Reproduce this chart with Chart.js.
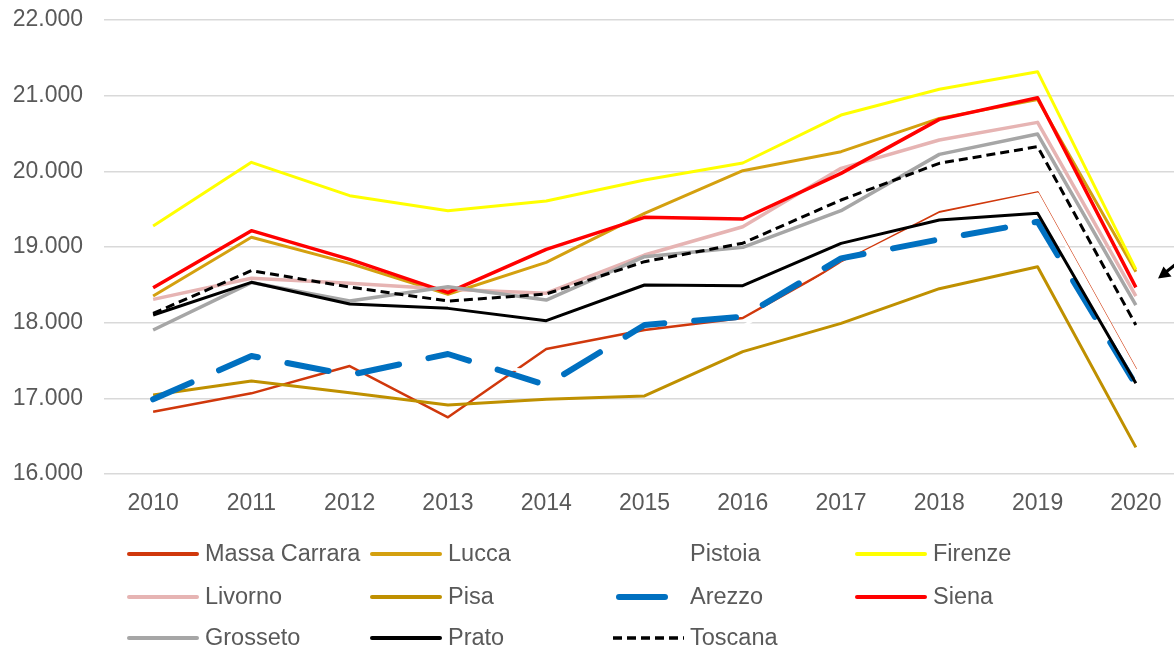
<!DOCTYPE html>
<html>
<head>
<meta charset="utf-8">
<script src="https://cdn.jsdelivr.net/npm/chart.js@4.4.1/dist/chart.umd.min.js"></script>
<style>
  html, body { margin: 0; padding: 0; background: #fff; overflow: hidden; width: 1174px; height: 651px; }
  #wrap { position: absolute; left: 0; top: 0; width: 1200px; height: 651px; }
  #legend { position: absolute; left: 0; top: 0; width: 1174px; height: 651px; pointer-events: none;
            font-family: "Liberation Sans", Arial, sans-serif; font-size: 23.5px; color: #595959; }
  .item { position: absolute; height: 30px; display: block; }
  .item svg { position: absolute; left: 0; top: 0; }
  .item span { position: absolute; top: 50%; transform: translateY(-50%); white-space: nowrap; line-height: 1; }
</style>
</head>
<body>
<div id="wrap"><canvas id="c" width="1200" height="651"></canvas></div>
<div id="legend"></div>
<script>
// ---- data ----
const years = ['2010','2011','2012','2013','2014','2015','2016','2017','2018','2019','2020'];
const seriesNames = ['Massa Carrara','Lucca','Pistoia','Firenze','Livorno','Pisa','Arezzo','Siena','Grosseto','Prato','Toscana'];
const massaCarrara = [16824, 17066, 17427, 16749, 17652, 17903, 18062, 18790, 19458, 19722, 17383];
const lucca        = [18352, 19128, 18784, 18375, 18797, 19445, 20008, 20260, 20700, 20950, 18674];
const pistoia      = [17000, 17300, 17500, 17450, 17350, 17700, 17950, 18770, 19430, 19700, 17360];
const firenze      = [19277, 20119, 19678, 19480, 19608, 19885, 20110, 20744, 21084, 21317, 18705];
const livorno      = [18308, 18586, 18520, 18441, 18390, 18894, 19268, 20040, 20414, 20647, 18352];
const pisa         = [17044, 17229, 17075, 16912, 16987, 17031, 17617, 17991, 18449, 18740, 16352];
const arezzo       = [16987, 17559, 17308, 17586, 17176, 17969, 18079, 18850, 19100, 19334, 17176];
const siena        = [18462, 19216, 18837, 18396, 18969, 19392, 19370, 19973, 20687, 20973, 18467];
const grosseto     = [17903, 18530, 18286, 18475, 18299, 18872, 18996, 19480, 20224, 20493, 18233];
const prato        = [18101, 18533, 18247, 18189, 18026, 18498, 18489, 19048, 19357, 19445, 17198];
const toscana      = [18123, 18687, 18470, 18286, 18379, 18806, 19050, 19621, 20106, 20326, 17969];
const yTickValues  = [16000, 17000, 18000, 19000, 20000, 21000, 22000];

const seriesValues = [massaCarrara, lucca, pistoia, firenze, livorno, pisa, arezzo, siena, grosseto, prato, toscana];
const styles = [
  { color: '#D0380C', width: 2.5 },
  { color: '#D4A00F', width: 3 },
  { color: '#FFFFFF', width: 3 },
  { color: '#FFFF00', width: 3 },
  { color: '#E6B4B3', width: 3.5 },
  { color: '#BF9000', width: 3 },
  { color: '#0070C0', width: 6, dash: [42, 30], cap: 'round' },
  { color: '#FF0000', width: 3.5 },
  { color: '#A6A6A6', width: 3.5 },
  { color: '#000000', width: 3 },
  { color: '#000000', width: 3, dash: [9, 5] }
];

const fmt = v => String(v).replace(/\B(?=(\d{3})+(?!\d))/g, '.');

const datasets = seriesNames.map((name, i) => ({
  label: name,
  data: seriesValues[i],
  borderColor: styles[i].color,
  backgroundColor: styles[i].color,
  borderWidth: styles[i].width,
  borderDash: styles[i].dash || [],
  borderCapStyle: styles[i].cap || 'butt',
  borderJoinStyle: 'round',
  pointRadius: 0,
  tension: 0,
  fill: false,
  order: -i
}));

const arrowPlugin = {
  id: 'arrow',
  afterDraw(chart) {
    const ctx = chart.ctx;
    ctx.save();
    ctx.strokeStyle = '#000'; ctx.fillStyle = '#000'; ctx.lineWidth = 3;
    ctx.beginPath(); ctx.moveTo(1190, 253); ctx.lineTo(1166, 272); ctx.stroke();
    ctx.beginPath(); ctx.moveTo(1158, 278.5); ctx.lineTo(1163.5, 266.5); ctx.lineTo(1171.5, 276.5); ctx.closePath(); ctx.fill();
    ctx.restore();
  }
};

new Chart(document.getElementById('c'), {
  type: 'line',
  data: { labels: years, datasets },
  options: {
    responsive: false,
    animation: false,
    devicePixelRatio: 1,
    layout: { padding: { top: 20, right: 15, bottom: 117, left: 0 } },
    plugins: { legend: { display: false }, tooltip: { enabled: false } },
    scales: {
      x: {
        offset: true,
        grid: { display: false, drawTicks: false },
        border: { display: false },
        ticks: { color: '#595959', font: { family: '"Liberation Sans", Arial, sans-serif', size: 23 }, padding: 16, maxRotation: 0 },
        afterFit(s) { s.height = 60; s.paddingLeft = 0; s.paddingRight = 0; }
      },
      y: {
        min: yTickValues[0], max: yTickValues[yTickValues.length - 1],
        afterBuildTicks(s) { s.ticks = yTickValues.map(v => ({ value: v })); },
        grid: { color: '#D9D9D9', lineWidth: 1.5, drawTicks: false },
        border: { display: false },
        ticks: { color: '#595959', font: { family: '"Liberation Sans", Arial, sans-serif', size: 23 }, padding: 21,
                 callback: v => fmt(v) },
        afterFit(s) { s.width = 104; s.paddingTop = 0; s.paddingBottom = 0; }
      }
    }
  },
  plugins: [arrowPlugin]
});

// ---- HTML legend ----
const legendCols = [127, 370, 613, 855];
const legendRows = [554, 597, 638];
const legend = document.getElementById('legend');
seriesNames.forEach((name, i) => {
  const col = i % 4, row = Math.floor(i / 4);
  const st = styles[i];
  const x = legendCols[col], y = legendRows[row];
  const div = document.createElement('div');
  div.className = 'item';
  div.style.left = x + 'px';
  div.style.top = (y - 15) + 'px';
  const isArezzo = st.dash && st.cap === 'round';
  const isDashed = st.dash && !isArezzo;
  const x1 = isArezzo ? 6 : (isDashed ? 0 : 2), x2 = isArezzo ? 52 : (isDashed ? 71 : 70);
  const w = isArezzo ? st.width : (isDashed ? 3.5 : 4);
  const dash = isDashed ? ` stroke-dasharray="${st.dash.join(',')}"` : '';
  div.innerHTML = `<svg width="80" height="30"><line x1="${x1}" y1="15" x2="${x2}" y2="15" stroke="${st.color}" stroke-width="${w}" stroke-linecap="${isDashed ? 'butt' : 'round'}"${dash}/></svg>` +
                  `<span style="left:${(col === 2) ? 77 : 78}px">${name}</span>`;
  legend.appendChild(div);
});
</script>
</body>
</html>
